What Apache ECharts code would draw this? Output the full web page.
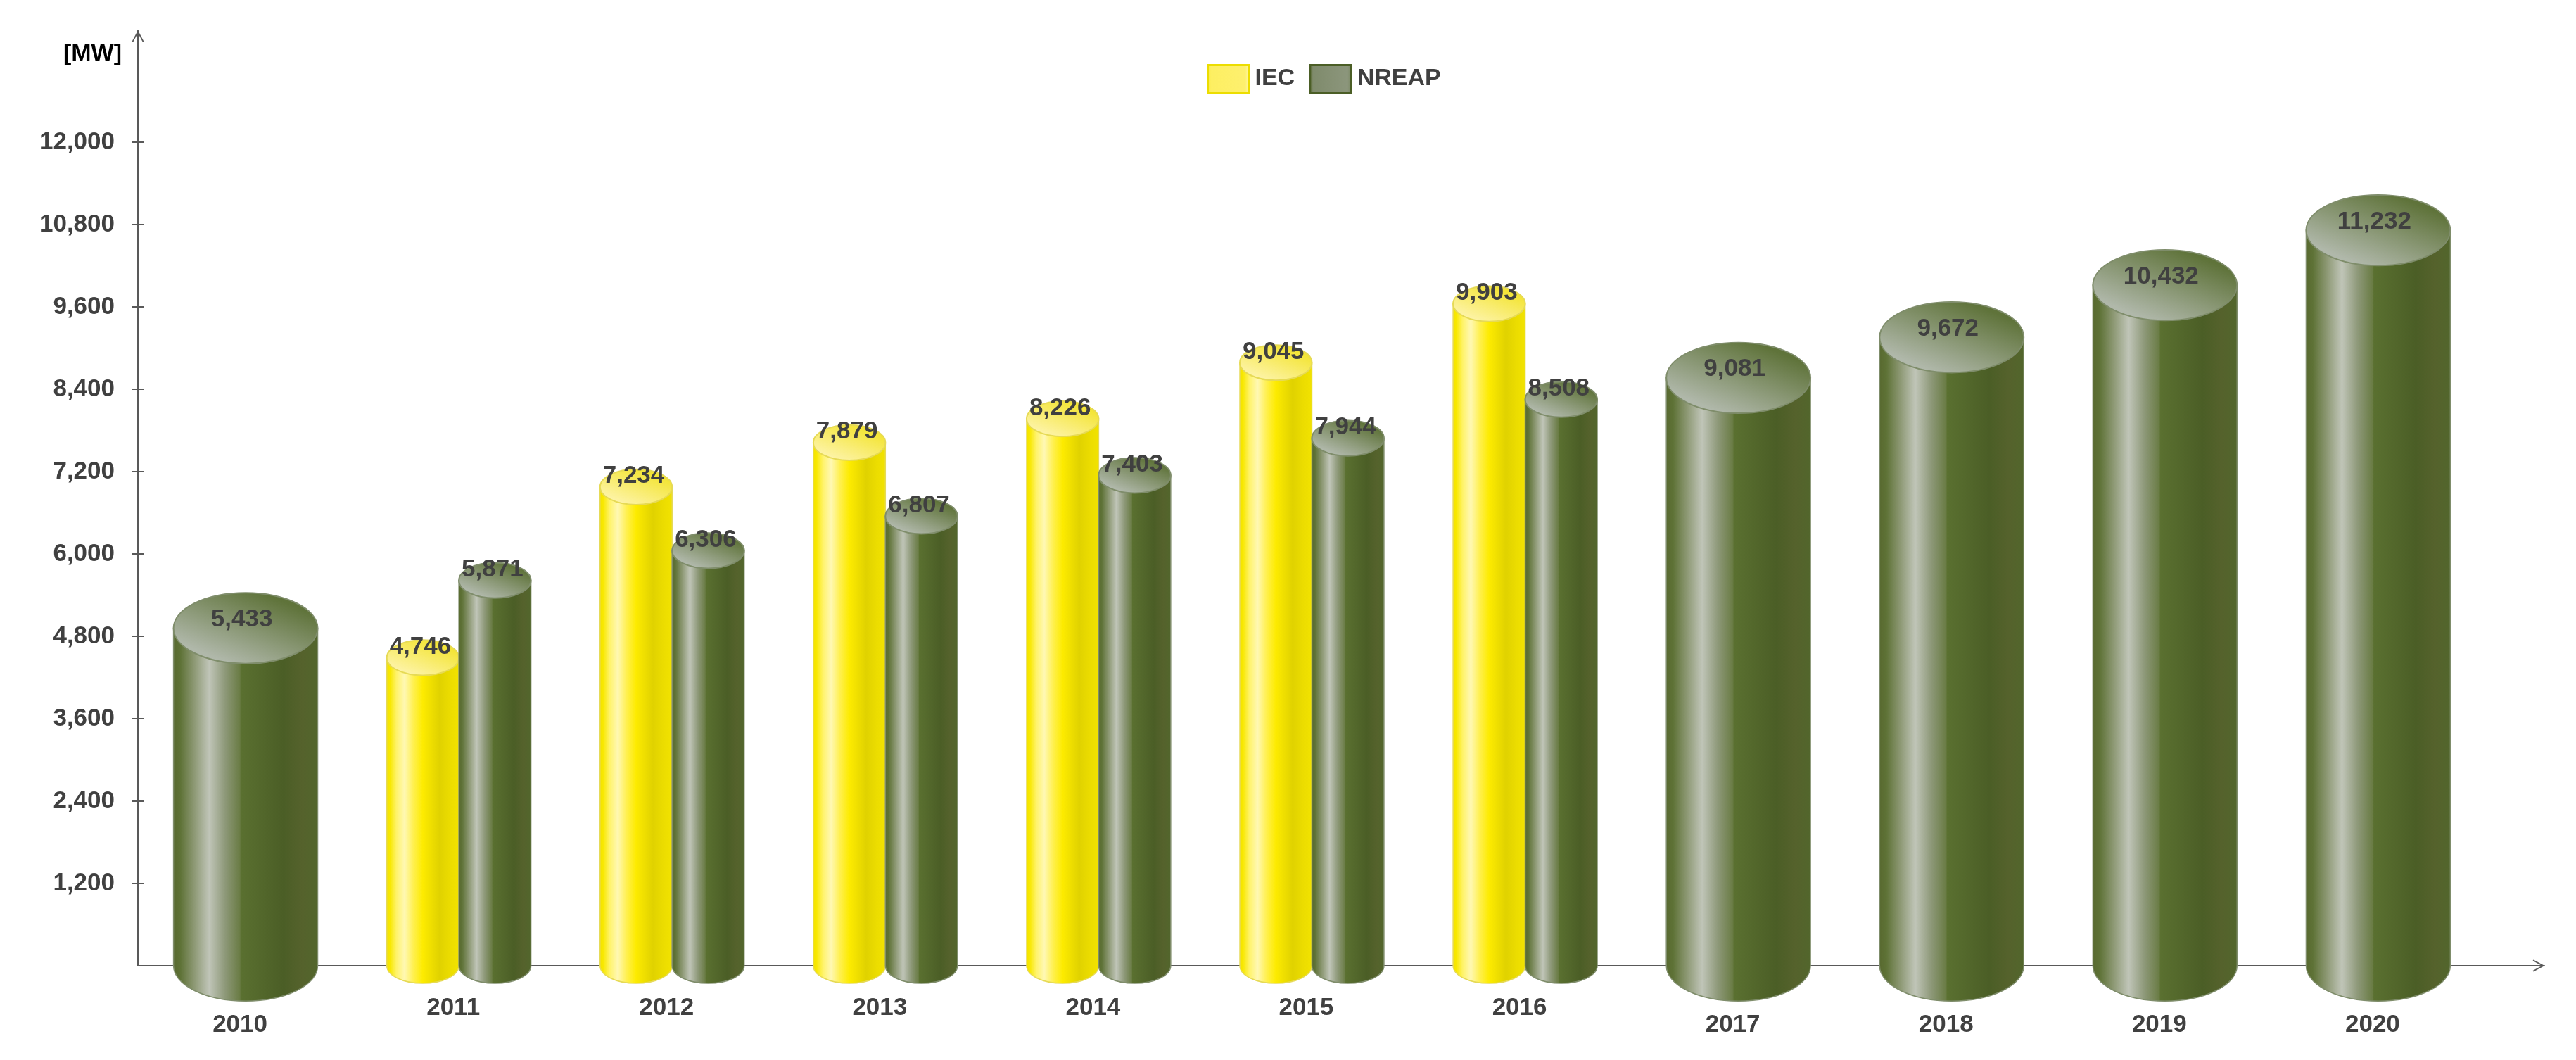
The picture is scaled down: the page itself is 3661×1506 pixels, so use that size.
<!DOCTYPE html>
<html>
<head>
<meta charset="utf-8">
<title>IEC / NREAP</title>
<script src="https://cdn.jsdelivr.net/npm/echarts@6/dist/echarts.min.js"></script>
<style>
  html, body { margin: 0; background: #fff; }
  #chart { width: 3661px; height: 1506px; }
</style>
</head>
<body>
<div id="chart"></div>
<script>
const years = ['2010', '2011', '2012', '2013', '2014', '2015', '2016', '2017', '2018', '2019', '2020']
const iec = [null, 4746, 7234, 7879, 8226, 9045, 9903, null, null, null, null]
const nreap = [5433, 5871, 6306, 6807, 7403, 7944, 8508, 9081, 9672, 10432, 11232]
const yTicks = [1200, 2400, 3600, 4800, 6000, 7200, 8400, 9600, 10800, 12000]
const xTicks = years.map((y, i) => i)

const FONT = '"Liberation Sans", Arial, sans-serif'
const TEXT = '#404040'
const AXIS = '#595959'
// open arrow head, tip pointing up
const ARROW = 'path://M8.5 0L17 16L15.5 17L8.5 4L1.5 17L0 16Z'

const hGrad = stops => new echarts.graphic.LinearGradient(0, 0, 1, 0, stops.map(s => ({ offset: s[0], color: s[1] })))
const topGrad = (a, b) => new echarts.graphic.LinearGradient(0.6, 0, 0.4, 1, [{ offset: 0, color: a }, { offset: 1, color: b }])

const looks = {
  IEC: {
    side: hGrad([[0, '#f3e200'], [0.05, '#f8e800'], [0.14, '#fff36a'], [0.25, '#fff8b4'], [0.37, '#fff050'], [0.5, '#fdeb00'], [0.73, '#e0d200'], [0.88, '#ecdd00'], [1, '#f2e300']]),
    top: topGrad('#f3e432', '#fdf3a4'),
    edge: '#e6da55',
    legendFill: hGrad([[0, '#fbe93c'], [0.1, '#fdef62'], [0.9, '#fef06e'], [0.96, '#fff6a0'], [1, '#fbe93c']]),
    legendEdge: '#ecdd00'
  },
  NREAP: {
    side: hGrad([[0, '#58692f'], [0.05, '#5e7236'], [0.14, '#8a9670'], [0.25, '#c0c5b8'], [0.36, '#8d9878'], [0.46, '#6a7c45'], [0.47, '#5a7030'], [0.76, '#4b5e26'], [0.89, '#55622c'], [1, '#52662c']]),
    top: topGrad('#5f733a', '#b0b8aa'),
    edge: '#7f8d6b',
    legendFill: hGrad([[0, '#55682f'], [0.1, '#7f8b6c'], [0.9, '#8c967c'], [0.96, '#7f8c6a'], [1, '#55682f']]),
    legendEdge: '#4b5e26'
  }
}

// one cylinder: the upper rim of the top ellipse sits on the value, the base ellipse is centred on zero
function renderCylinder(params, api) {
  const name = params.seriesName
  const look = looks[name]
  const i = api.value(0)
  const v = api.value(1)
  const paired = iec[i] != null
  const band = api.size([1, 0])[0]
  const w = band * 0.338 * (paired ? 1 : 2)
  const cx = api.coord([i, 0])[0] + (paired ? (name === 'IEC' ? -w / 2 : w / 2) : 0)
  const base = api.coord([i, 0])[1]
  const top = api.coord([i, v])[1]
  const rx = w / 2
  const ry = rx * 0.49
  const cy = top + ry
  return {
    type: 'group',
    children: [
      {
        type: 'path',
        shape: { pathData: `M${cx - rx} ${cy}L${cx - rx} ${base}A${rx} ${ry} 0 0 0 ${cx + rx} ${base}L${cx + rx} ${cy}Z` },
        style: { fill: look.side, stroke: look.edge, lineWidth: 1.5 }
      },
      {
        type: 'ellipse',
        shape: { cx: cx, cy: cy, rx: rx, ry: ry },
        style: { fill: look.top, stroke: look.edge, lineWidth: 2 }
      },
      {
        type: 'text',
        x: cx + (paired ? -3.5 : -5.5),
        y: top + (paired ? 10 : 38),
        style: {
          text: v.toLocaleString('en-US'),
          fill: TEXT,
          font: 'bold 35px ' + FONT,
          align: 'center',
          verticalAlign: 'middle'
        }
      }
    ]
  }
}

const toPoints = arr => arr.map((v, i) => [i, v]).filter(p => p[1] != null)

const chart = echarts.init(document.getElementById('chart'))
chart.setOption({
  animation: false,
  backgroundColor: '#fff',
  grid: { left: 196, right: 45, top: 43.5, height: 1328.5 },
  legend: {
    left: 1710,
    top: 86,
    itemWidth: 58,
    itemHeight: 39,
    itemGap: 20,
    selectedMode: false,
    textStyle: { color: TEXT, fontFamily: FONT, fontWeight: 'bold', fontSize: 34, padding: [0, 0, 0, 4] },
    data: ['IEC', 'NREAP'].map(n => ({
      name: n,
      icon: 'rect',
      itemStyle: { color: looks[n].legendFill, borderColor: looks[n].legendEdge, borderWidth: 3 }
    }))
  },
  xAxis: {
    type: 'value',
    min: -0.505,
    max: 10.779,
    splitLine: { show: false },
    axisLine: {
      onZero: false,
      symbol: ['none', ARROW],
      symbolSize: [17, 17],
      symbolOffset: [0, -8],
      lineStyle: { color: AXIS, width: 2 }
    },
    axisTick: { show: false },
    axisLabel: {
      customValues: xTicks,
      margin: 43,
      formatter: v => (iec[v] != null ? '{pair|' : '{single|') + years[v] + '}',
      rich: {
        pair: { color: TEXT, fontFamily: FONT, fontWeight: 'bold', fontSize: 35, lineHeight: 34, padding: [0, 16, 0, 0] },
        single: { color: TEXT, fontFamily: FONT, fontWeight: 'bold', fontSize: 35, lineHeight: 34, padding: [48, 16, 0, 0] }
      }
    }
  },
  yAxis: [
    {
      type: 'value',
      min: 0,
      max: 13626,
      name: '[MW]',
      nameLocation: 'end',
      nameGap: -16,
      nameTextStyle: { color: '#000', fontFamily: FONT, fontWeight: 'bold', fontSize: 34, align: 'right', verticalAlign: 'top', padding: [0, 23, 0, 0] },
      splitLine: { show: false },
      axisLine: {
        show: true,
        onZero: false,
        symbol: ['none', ARROW],
        symbolSize: [17, 17],
        symbolOffset: [0, -8],
        lineStyle: { color: AXIS, width: 2 }
      },
      axisTick: { show: true, length: 9, customValues: yTicks, lineStyle: { color: AXIS, width: 2 } },
      axisLabel: {
        customValues: yTicks,
        margin: 33,
        color: TEXT,
        fontFamily: FONT,
        fontWeight: 'bold',
        fontSize: 35,
        padding: [3, 0, 0, 0],
        formatter: v => v.toLocaleString('en-US')
      }
    },
    {
      // inner half of the ticks, they cross the axis line in the original
      type: 'value',
      position: 'left',
      min: 0,
      max: 13626,
      splitLine: { show: false },
      axisLine: { show: false, onZero: false },
      axisLabel: { show: false },
      axisTick: { show: true, inside: true, length: 9, customValues: yTicks, lineStyle: { color: AXIS, width: 2 } }
    }
  ],
  series: [
    { name: 'IEC', type: 'custom', renderItem: renderCylinder, encode: { x: 0, y: 1 }, data: toPoints(iec) },
    { name: 'NREAP', type: 'custom', renderItem: renderCylinder, encode: { x: 0, y: 1 }, data: toPoints(nreap) }
  ]
})
</script>
</body>
</html>
